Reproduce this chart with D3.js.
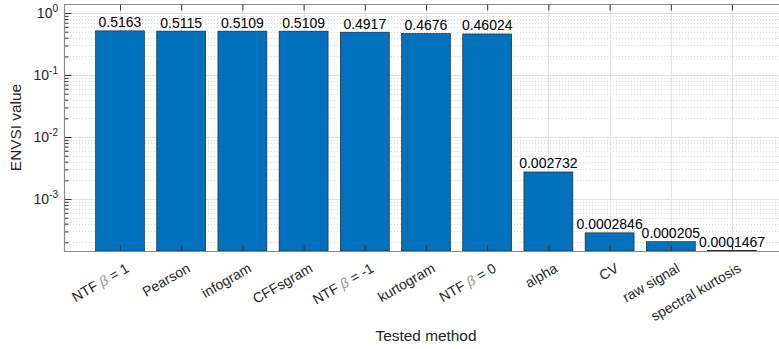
<!DOCTYPE html>
<html>
<head>
<meta charset="utf-8">
<script src="https://cdn.jsdelivr.net/npm/d3@7"></script>
<style>
  html, body { margin: 0; padding: 0; background: #fff; }
  svg { display: block; font-family: "Liberation Sans", Arial, Helvetica, sans-serif; }
</style>
</head>
<body>
<svg id="chart" width="779" height="349"></svg>
<script>
// ENVSI value per tested method (log scale bar chart)
const categories = ["NTF β = 1", "Pearson", "infogram", "CFFsgram", "NTF β = -1",
  "kurtogram", "NTF β = 0", "alpha", "CV", "raw signal", "spectral kurtosis"];
const values = [0.5163, 0.5115, 0.5109, 0.5109, 0.4917, 0.4676, 0.46024,
  0.002732, 0.0002846, 0.000205, 0.0001467];
const valueLabels = ["0.5163", "0.5115", "0.5109", "0.5109", "0.4917", "0.4676", "0.46024",
  "0.002732", "0.0002846", "0.000205", "0.0001467"];
const yTickExponents = [0, -1, -2, -3];
const yLabel = "ENVSI value";
const xLabel = "Tested method";

const svg = d3.select("#chart");
const plotL = 64, plotR = 788, plotT = 4, plotB = 251;
const n = categories.length;

const x = d3.scaleLinear().domain([1 - 0.915, n + 0.915]).range([plotL, plotR]);
const y = d3.scaleLog().domain([1.45e-4, 1.4]).range([plotB, plotT]);
const barW = x(1.8) - x(1);

const txt = "#262626";
const axisCol = "#8a8a8a";

// minor tick values 2..9 per decade inside the domain
const minorVals = [];
for (let e = -4; e <= 0; e++) {
  for (let m = 2; m <= 9; m++) {
    const v = m * Math.pow(10, e);
    if (v >= y.domain()[0] && v <= y.domain()[1]) minorVals.push(v);
  }
}
const majorVals = yTickExponents.map(e => Math.pow(10, e));

// grid
const grid = svg.append("g");
grid.selectAll("line.minor").data(minorVals).join("line")
  .attr("x1", plotL).attr("x2", plotR)
  .attr("y1", d => Math.round(y(d)) + 0.5).attr("y2", d => Math.round(y(d)) + 0.5)
  .attr("stroke", "#d9d9d9").attr("stroke-width", 1).attr("stroke-dasharray", "1,2");
grid.selectAll("line.major").data(majorVals).join("line")
  .attr("x1", plotL).attr("x2", plotR)
  .attr("y1", d => Math.round(y(d)) + 0.5).attr("y2", d => Math.round(y(d)) + 0.5)
  .attr("stroke", "#e3e3e3").attr("stroke-width", 1);
grid.selectAll("line.vx").data(d3.range(1, n + 1)).join("line")
  .attr("x1", d => Math.round(x(d)) + 0.5).attr("x2", d => Math.round(x(d)) + 0.5)
  .attr("y1", plotT).attr("y2", plotB)
  .attr("stroke", "#e3e3e3").attr("stroke-width", 1);

// bars
svg.append("g").selectAll("rect").data(values).join("rect")
  .attr("x", (d, i) => x(i + 1) - barW / 2)
  .attr("width", barW)
  .attr("y", d => y(d))
  .attr("height", d => Math.max(0, plotB - y(d)))
  .attr("fill", "#0072BD")
  .attr("stroke", "#1a1a1a")
  .attr("stroke-width", 0.6);

// value labels
svg.append("g").selectAll("text").data(values).join("text")
  .attr("x", (d, i) => x(i + 1))
  .attr("y", d => Math.min(y(d), plotB) - 3.5)
  .attr("text-anchor", "middle")
  .attr("font-size", 14)
  .attr("fill", "#000")
  .text((d, i) => valueLabels[i]);

// y axis with major + minor ticks pointing inward
const yAxis = svg.append("g").attr("transform", `translate(${plotL + 0.5},0)`)
  .call(d3.axisRight(y).tickValues(majorVals).tickSize(7).tickFormat(""));
yAxis.select(".domain").remove();
yAxis.selectAll(".tick line").attr("stroke", "#333");
const yMinor = svg.append("g").attr("transform", `translate(${plotL + 0.5},0)`)
  .call(d3.axisRight(y).tickValues(minorVals).tickSize(4).tickFormat(""));
yMinor.select(".domain").remove();
yMinor.selectAll(".tick line").attr("stroke", "#333");

// y tick labels with superscript exponents
const yLab = svg.append("g");
yTickExponents.forEach(e => {
  const t = yLab.append("text")
    .attr("x", 58).attr("y", y(Math.pow(10, e)) + 5)
    .attr("text-anchor", "end").attr("font-size", 14).attr("fill", txt);
  t.append("tspan").text("10");
  t.append("tspan").attr("dy", -6).attr("font-size", 10).text(String(e));
});

// x ticks at bottom and top, pointing inward
const xTickVals = d3.range(1, n + 1);
const xb = svg.append("g").attr("transform", `translate(0,${plotB + 0.5})`)
  .call(d3.axisTop(x).tickValues(xTickVals).tickSize(6).tickFormat(""));
xb.select(".domain").remove();
xb.selectAll(".tick line").attr("stroke", "#333");
const xt = svg.append("g").attr("transform", `translate(0,${plotT + 0.5})`)
  .call(d3.axisBottom(x).tickValues(xTickVals).tickSize(6).tickFormat(""));
xt.select(".domain").remove();
xt.selectAll(".tick line").attr("stroke", "#333");

// box lines
svg.append("line").attr("x1", plotL).attr("x2", plotR).attr("y1", plotT + 0.5).attr("y2", plotT + 0.5)
  .attr("stroke", axisCol).attr("stroke-width", 1.2);
svg.append("line").attr("x1", plotL).attr("x2", plotR).attr("y1", plotB + 0.5).attr("y2", plotB + 0.5)
  .attr("stroke", axisCol).attr("stroke-width", 1.2);
svg.append("line").attr("x1", plotL + 0.5).attr("x2", plotL + 0.5).attr("y1", plotT).attr("y2", plotB + 1)
  .attr("stroke", axisCol).attr("stroke-width", 1.2);

// rotated category labels
const xl = svg.append("g");
categories.forEach((c, i) => {
  const t = xl.append("text")
    .attr("transform", `translate(${x(i + 1) + 10},${plotB + 20}) rotate(-30)`)
    .attr("text-anchor", "end").attr("font-size", 14).attr("fill", txt);
  const parts = c.split("β");
  parts.forEach((p, k) => {
    if (k > 0) t.append("tspan").attr("font-style", "italic").attr("fill", "#9a9a9a").text("β");
    t.append("tspan").text(p);
  });
});

// axis titles
svg.append("text")
  .attr("x", x((1 + n) / 2)).attr("y", 341)
  .attr("text-anchor", "middle").attr("font-size", 15.4).attr("fill", txt)
  .text(xLabel);
svg.append("text")
  .attr("transform", `translate(21,${(plotT + plotB) / 2}) rotate(-90)`)
  .attr("text-anchor", "middle").attr("font-size", 15.4).attr("fill", txt)
  .text(yLabel);
</script>
</body>
</html>
